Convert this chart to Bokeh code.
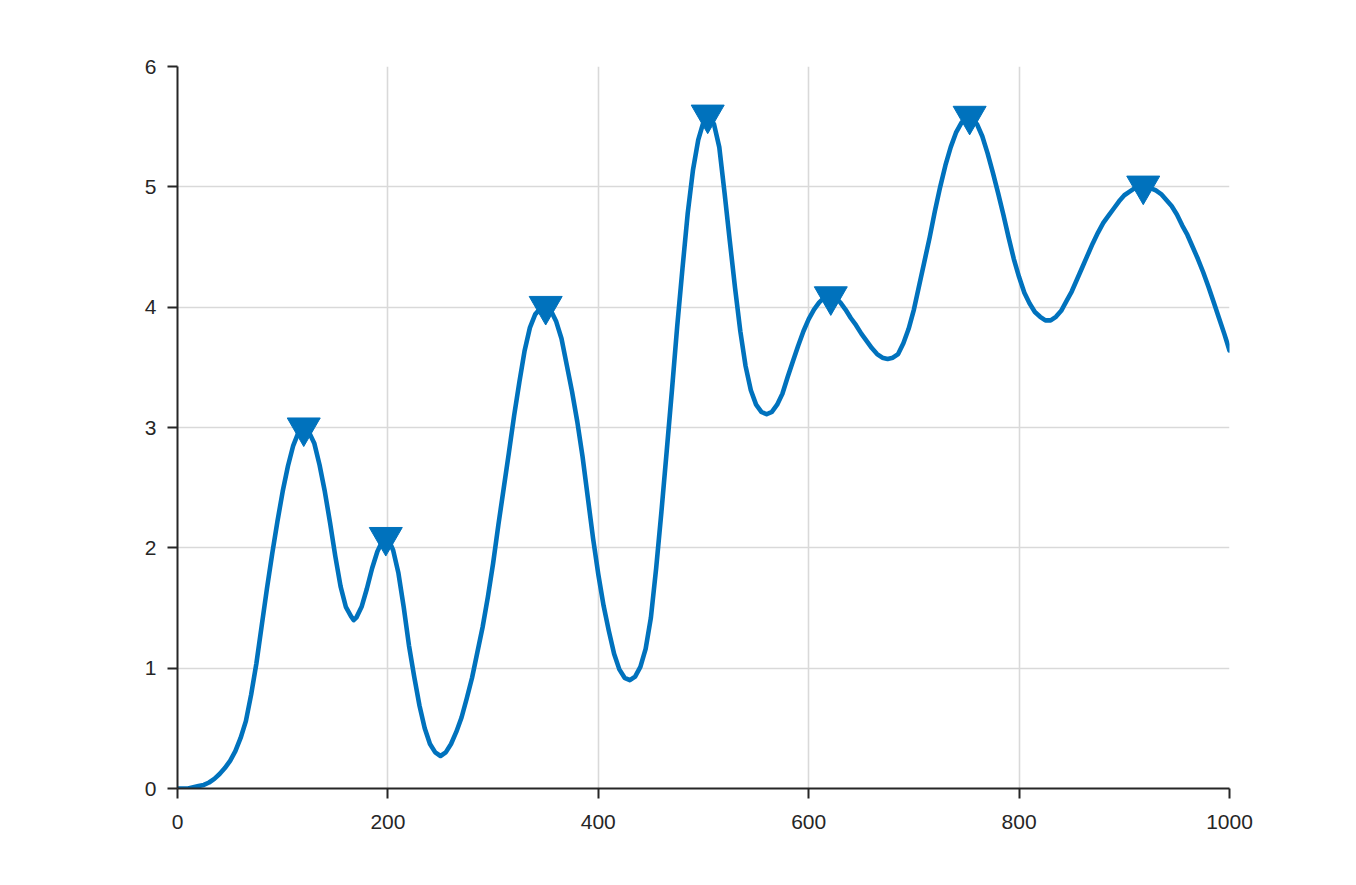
from bokeh.plotting import figure
from bokeh.models import Range1d, FixedTicker
from bokeh.embed import file_html
from bokeh.resources import INLINE

# sample positions along x
x_vals = [
    0, 5, 10, 15, 20, 25, 30, 35, 40, 45,
    50, 55, 60, 65, 70, 75, 80, 85, 90, 95,
    100, 105, 110, 115, 120, 125, 130, 135, 140, 145,
    150, 155, 160, 165, 167.5, 170, 175, 180, 185, 190, 195,
    200, 205, 210, 215, 220, 225, 230, 235, 240, 245,
    250, 255, 260, 265, 270, 275, 280, 285, 290, 295,
    300, 305, 310, 315, 320, 325, 330, 335, 340, 345,
    350, 355, 360, 365, 370, 375, 380, 385, 390, 395,
    400, 405, 410, 415, 420, 425, 430, 435, 440, 445,
    450, 455, 460, 465, 470, 475, 480, 485, 490, 495,
    500, 505, 510, 515, 520, 525, 530, 535, 540, 545,
    550, 555, 560, 565, 570, 575, 580, 585, 590, 595,
    600, 605, 610, 615, 620, 625, 630, 635, 640, 645,
    650, 655, 660, 665, 670, 675, 680, 685, 690, 695,
    700, 705, 710, 715, 720, 725, 730, 735, 740, 745,
    750, 755, 760, 765, 770, 775, 780, 785, 790, 795,
    800, 805, 810, 815, 820, 825, 830, 835, 840, 845,
    850, 855, 860, 865, 870, 875, 880, 885, 890, 895,
    900, 905, 910, 915, 920, 925, 930, 935, 940, 945,
    950, 955, 960, 965, 970, 975, 980, 985, 990, 995,
    1000,
]

# signal values
y_vals = [
    0.00, 0.00, 0.00, 0.01, 0.02, 0.03, 0.05, 0.08, 0.12, 0.17,
    0.23, 0.31, 0.42, 0.56, 0.78, 1.04, 1.35, 1.66, 1.95, 2.22,
    2.47, 2.68, 2.85, 2.96, 3.00, 2.96, 2.87, 2.69, 2.47, 2.21,
    1.93, 1.68, 1.51, 1.43, 1.40, 1.42, 1.51, 1.66, 1.83, 1.97, 2.06,
    2.08, 1.98, 1.79, 1.51, 1.19, 0.93, 0.69, 0.50, 0.37, 0.30,
    0.27, 0.30, 0.37, 0.47, 0.59, 0.75, 0.92, 1.13, 1.34, 1.59,
    1.87, 2.19, 2.49, 2.79, 3.10, 3.38, 3.64, 3.83, 3.94, 3.99,
    4.01, 3.97, 3.88, 3.74, 3.52, 3.30, 3.05, 2.76, 2.42, 2.08,
    1.78, 1.52, 1.31, 1.12, 0.99, 0.92, 0.90, 0.93, 1.01, 1.16,
    1.42, 1.83, 2.30, 2.80, 3.31, 3.84, 4.32, 4.78, 5.14, 5.39,
    5.54, 5.59, 5.52, 5.33, 4.95, 4.55, 4.16, 3.80, 3.51, 3.31,
    3.19, 3.13, 3.11, 3.13, 3.19, 3.28, 3.42, 3.55, 3.68, 3.80,
    3.90, 3.98, 4.04, 4.08, 4.09, 4.08, 4.04, 3.98, 3.91, 3.85,
    3.78, 3.72, 3.66, 3.61, 3.58, 3.57, 3.58, 3.61, 3.70, 3.82,
    3.98, 4.18, 4.38, 4.58, 4.80, 5.00, 5.18, 5.33, 5.45, 5.53,
    5.58, 5.58, 5.52, 5.42, 5.28, 5.12, 4.95, 4.77, 4.58, 4.40,
    4.25, 4.12, 4.03, 3.96, 3.92, 3.89, 3.89, 3.92, 3.97, 4.05,
    4.13, 4.23, 4.33, 4.43, 4.53, 4.62, 4.70, 4.76, 4.82, 4.88,
    4.93, 4.96, 4.99, 5.00, 5.00, 4.99, 4.97, 4.94, 4.89, 4.84,
    4.77, 4.68, 4.60, 4.50, 4.40, 4.29, 4.17, 4.04, 3.91, 3.78,
    3.64,
]

# detected peaks
peak_x = [120, 198, 350, 504, 621, 753, 918]
peak_y = [3.00, 2.09, 4.01, 5.60, 4.09, 5.59, 5.01]

x_ticks = [0, 200, 400, 600, 800, 1000]
y_ticks = [0, 1, 2, 3, 4, 5, 6]

BLUE = "#0072BD"
AX = "#262626"
FONT = "Liberation Sans"

p = figure(
    frame_width=1052, frame_height=722,
    x_range=Range1d(0, 1000), y_range=Range1d(0, 6),
    output_backend="svg", toolbar_location=None,
    min_border_left=177, min_border_top=66,
    min_border_right=100, min_border_bottom=70,
)
p.outline_line_color = None
p.background_fill_color = "white"
p.border_fill_color = "white"

p.line(x_vals, y_vals, line_color=BLUE, line_width=4.6,
       line_join="round", line_cap="round")
p.scatter(peak_x, peak_y, marker="inverted_triangle", size=33,
          fill_color=BLUE, line_color=BLUE)

p.xaxis.ticker = FixedTicker(ticks=x_ticks)
p.yaxis.ticker = FixedTicker(ticks=y_ticks)
for ax in (p.xaxis[0], p.yaxis[0]):
    ax.axis_line_color = AX
    ax.axis_line_width = 2
    ax.major_tick_line_color = AX
    ax.major_tick_line_width = 2
    ax.major_tick_out = 10
    ax.major_tick_in = 0
    ax.minor_tick_line_color = None
    ax.major_label_text_color = AX
    ax.major_label_text_font = FONT
    ax.major_label_text_font_size = "21px"
p.xaxis.major_label_standoff = 16
p.yaxis.major_label_standoff = 11

p.xgrid.ticker = FixedTicker(ticks=x_ticks)
p.ygrid.ticker = FixedTicker(ticks=y_ticks)
p.grid.grid_line_color = "#d9d9d9"
p.grid.grid_line_width = 1.6

open("out.html", "w").write(file_html(p, INLINE))
